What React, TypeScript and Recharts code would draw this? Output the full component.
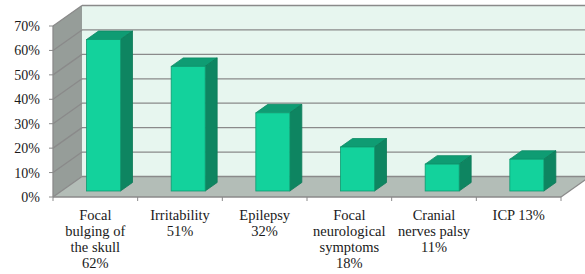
import React from "react";
import { BarChart, Bar, XAxis, YAxis, ReferenceArea } from "recharts";

const categories = [
  "Focal bulging of the skull",
  "Irritability",
  "Epilepsy",
  "Focal neurological symptoms",
  "Cranial nerves palsy",
  "ICP",
];
const values = [62, 51, 32, 18, 11, 13];
const labelLines = [
  ["Focal", "bulging of", "the skull", "62%"],
  ["Irritability", "51%"],
  ["Epilepsy", "32%"],
  ["Focal", "neurological", "symptoms", "18%"],
  ["Cranial", "nerves palsy", "11%"],
  ["ICP 13%"],
];
const yTicks = [0, 10, 20, 30, 40, 50, 60, 70];

const data = categories.map((c, i) => ({ name: c, value: values[i], idx: i }));

const FONT = "'Liberation Serif', 'DejaVu Serif', serif";
const DX = 29;
const DY = -20.5;
const GRID = "#8a8a8a";

const Walls = (p: any) => {
  const { x, y, width, height } = p;
  const bottom = y + height;
  const right = x + width;
  const n = yTicks.length - 1;
  const step = height / n;
  const lines = [];
  for (let k = 0; k <= n; k++) {
    const fy = bottom - k * step;
    lines.push(
      <line key={"b" + k} x1={x + DX} y1={fy + DY} x2={right + DX + 40} y2={fy + DY} stroke={GRID} strokeWidth={1.3} />
    );
    lines.push(
      <line key={"d" + k} x1={x} y1={fy} x2={x + DX} y2={fy + DY} stroke={GRID} strokeWidth={1.3} />
    );
  }
  const ticks = [];
  for (let i = 0; i <= categories.length; i++) {
    const tx = x + (i * width) / categories.length;
    ticks.push(<line key={"t" + i} x1={tx} y1={bottom} x2={tx} y2={bottom + 4} stroke={GRID} strokeWidth={1} />);
  }
  return (
    <g>
      <rect x={x + DX} y={y + DY} width={width + 60} height={height} fill="#e7f6ef" />
      <polygon
        points={`${x},${bottom} ${x},${y} ${x + DX},${y + DY} ${x + DX},${bottom + DY}`}
        fill="#969d99"
      />
      <polygon
        points={`${x},${bottom} ${right},${bottom} ${right + DX},${bottom + DY} ${x + DX},${bottom + DY}`}
        fill="#b3bdb7"
      />
      {lines}
      <line x1={right} y1={bottom} x2={right + DX} y2={bottom + DY} stroke={GRID} strokeWidth={1.3} />
      <line x1={x} y1={bottom} x2={right} y2={bottom} stroke={GRID} strokeWidth={1.3} />
      {ticks}
    </g>
  );
};

const Bar3D = (p: any) => {
  const { x, y, width, height } = p;
  if (height == null || width == null) return null;
  const ox = 8.5;
  const oy = -6;
  const d = 12;
  const dd = -8.5;
  const X = x + ox;
  const Y = y + oy;
  const W = width;
  const H = height;
  return (
    <g>
      <polygon
        points={`${X},${Y} ${X + d},${Y + dd} ${X + W + d},${Y + dd} ${X + W},${Y}`}
        fill="#0f9c73"
        stroke="#0d8a64"
        strokeWidth={0.8}
      />
      <polygon
        points={`${X + W},${Y} ${X + W + d},${Y + dd} ${X + W + d},${Y + H + dd} ${X + W},${Y + H}`}
        fill="#0e8561"
        stroke="#0d7a58"
        strokeWidth={0.8}
      />
      <rect x={X} y={Y} width={W} height={H} fill="#13d29c" stroke="#0f9a70" strokeWidth={0.8} />
    </g>
  );
};

const XTick = (p: any) => {
  const { x, y, payload } = p;
  const lines = labelLines[payload.index] || [String(payload.value)];
  return (
    <text x={x} y={y} textAnchor="middle" fontFamily={FONT} fontSize={14.5} fill="#1a1a1a">
      {lines.map((l, i) => (
        <tspan key={i} x={x} y={y + 23 + i * 16}>
          {l}
        </tspan>
      ))}
    </text>
  );
};

export default function App() {
  return (
    <div style={{ position: "absolute", left: 0, top: 0, width: 585, height: 274, background: "#fff" }}>
      <BarChart
        width={585}
        height={274}
        data={data}
        margin={{ top: 26, right: 24, bottom: 0, left: 0 }}
        barSize={34}
      >
        <ReferenceArea y1={0} y2={70} ifOverflow="visible" shape={Walls} />
        <XAxis
          dataKey="name"
          height={77}
          axisLine={false}
          tickLine={false}
          tickSize={0}
          tickMargin={0}
          interval={0}
          tick={<XTick />}
        />
        <YAxis
          width={53}
          domain={[0, 70]}
          ticks={yTicks}
          tickFormatter={(v: number) => `${v}%`}
          axisLine={{ stroke: GRID, strokeWidth: 1.3 }}
          tickLine={{ stroke: GRID, strokeWidth: 1 }}
          tickSize={4}
          tickMargin={9}
          tick={{ fontFamily: FONT, fontSize: 14, fill: "#1a1a1a" }}
        />
        <Bar dataKey="value" isAnimationActive={false} shape={Bar3D} />
      </BarChart>
    </div>
  );
}
